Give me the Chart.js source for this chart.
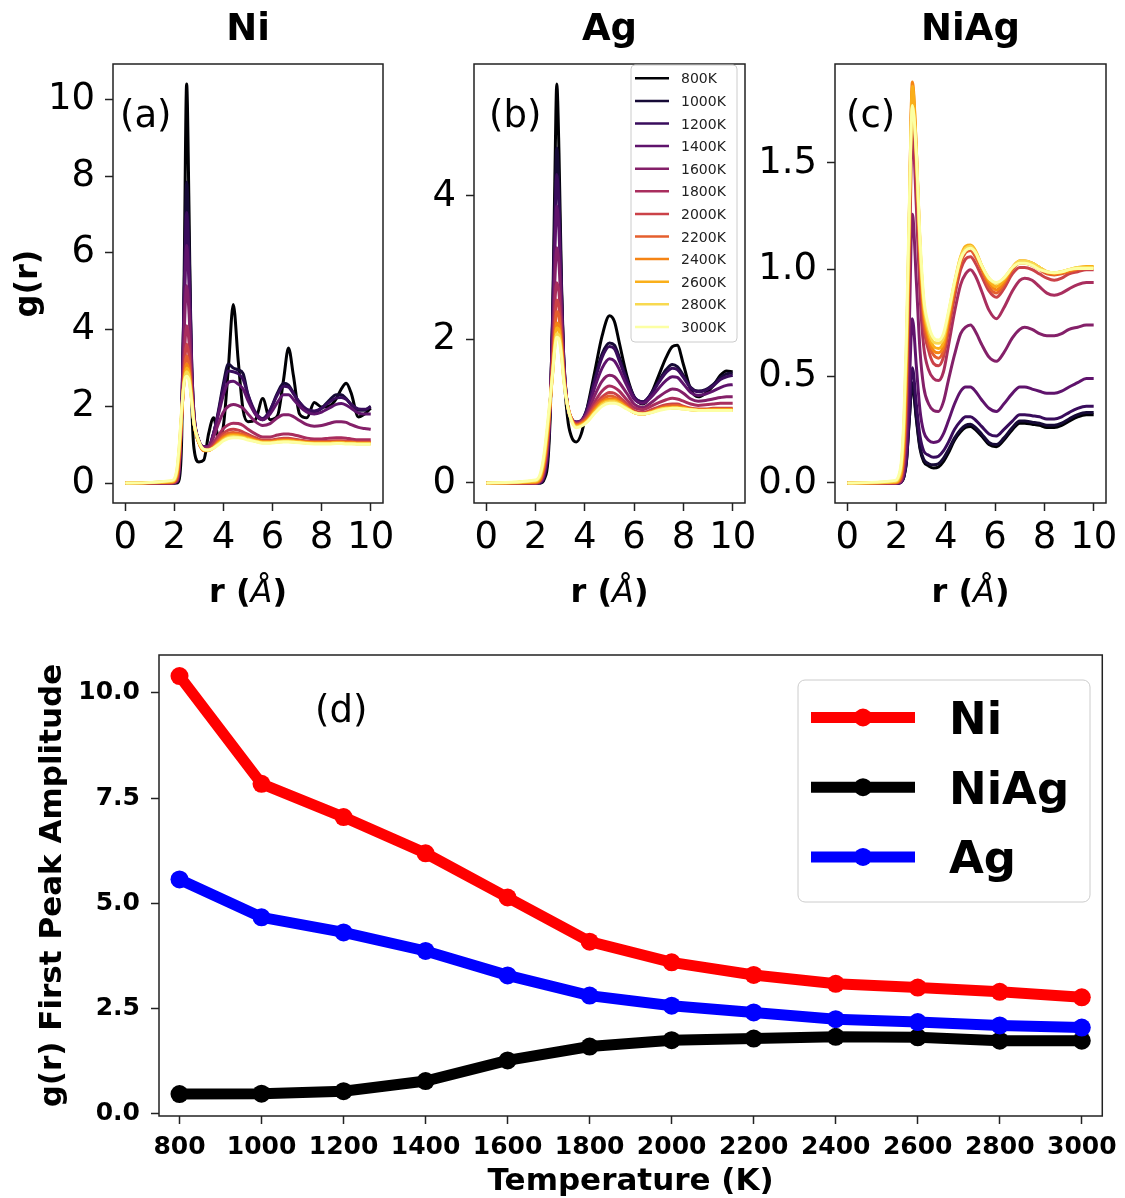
<!DOCTYPE html>
<html>
<head>
<meta charset="utf-8">
<script src="https://cdn.jsdelivr.net/npm/chart.js@4.4.0/dist/chart.umd.min.js"></script>
<style>
  html, body { margin: 0; padding: 0; background: #fff; }
  body { width: 1125px; height: 1198px; position: relative; overflow: hidden; }
  canvas { position: absolute; left: 0; top: 0; }
</style>
</head>
<body>
<canvas id="cNi" width="1125" height="1198"></canvas>
<canvas id="cAg" width="1125" height="1198"></canvas>
<canvas id="cNiAg" width="1125" height="1198"></canvas>
<canvas id="cPeak" width="1125" height="1198"></canvas>
<script>
// temperatures (K)
const temps = [800, 1000, 1200, 1400, 1600, 1800, 2000, 2200, 2400, 2600, 2800, 3000]
const tempLabels = ["800K", "1000K", "1200K", "1400K", "1600K", "1800K", "2000K", "2200K", "2400K", "2600K", "2800K", "3000K"]
const inferno = ["#000004", "#160a36", "#390c5c", "#5f136c", "#842069", "#a92e5e",
                 "#cb4248", "#e55f2e", "#f58414", "#faaf1a", "#f8d950", "#fcffa4"]

// first peak amplitude vs temperature (panel d)
const peakNi   = [10.40, 7.84, 7.05, 6.19, 5.14, 4.09, 3.60, 3.30, 3.09, 3.00, 2.90, 2.77]
const peakNiAg = [0.47, 0.48, 0.54, 0.78, 1.27, 1.60, 1.75, 1.79, 1.83, 1.82, 1.74, 1.74]
const peakAg   = [5.57, 4.67, 4.31, 3.87, 3.29, 2.81, 2.57, 2.41, 2.25, 2.18, 2.10, 2.05]

// tick labels
const rTicks = [0, 2, 4, 6, 8, 10]
const niTicks = [0, 2, 4, 6, 8, 10]
const agTicks = [0, 2, 4]
const niagTicks = [0, 0.5, 1.0, 1.5]
const peakYTicks = [0, 2.5, 5, 7.5, 10]

// g(r), Ni (one row per temperature)
const rNi = [0, 1.9, 2.1, 2.2, 2.3, 2.4, 2.5, 2.6, 2.7, 2.8, 3.0, 3.2, 3.4, 3.6, 3.8, 4.0, 4.2, 4.4, 4.6, 4.8,
             5.0, 5.3, 5.6, 5.9, 6.2, 6.45, 6.65, 6.85, 7.1, 7.4, 7.7, 8.0, 8.3, 8.6, 8.8, 9.0, 9.2, 9.5, 9.75, 10]
const gNi = [
  [0,0,0,0.1,1.2,5.5,10.4,7.0,2.4,0.9, 0.55,0.6,1.3,1.7,1.2,1.5,3.0,4.65,3.2,1.9, 1.6,1.65,2.2,1.65,1.75,2.7,3.52,2.8,1.8,1.7, 2.1,1.98,2.0,2.2,2.45,2.6,2.35,1.72,1.8,1.95],
  [0,0,0.02,0.3,1.8,5.0,7.84,6.2,3.3,1.8, 1.1,0.95,0.95,1.3,1.9,2.6,3.1,3.0,2.95,2.85, 2.3,1.8,1.65,1.9,2.35,2.6,2.55,2.35,2.1,1.9, 1.85,1.95,2.15,2.3,2.3,2.2,2.05,1.9,1.9,2.0],
  [0,0,0.03,0.35,1.9,4.8,7.05,5.7,3.2,1.8, 1.1,0.95,0.95,1.3,1.85,2.5,2.92,2.9,2.85,2.7, 2.3,1.85,1.68,1.9,2.3,2.52,2.5,2.33,2.1,1.92, 1.88,1.95,2.1,2.22,2.23,2.18,2.05,1.93,1.92,1.98],
  [0,0,0.04,0.4,1.9,4.4,6.19,5.1,3.0,1.75, 1.1,0.95,0.97,1.3,1.8,2.3,2.62,2.65,2.58,2.45, 2.15,1.8,1.65,1.8,2.1,2.3,2.3,2.18,2.0,1.85, 1.8,1.85,1.95,2.05,2.07,2.03,1.95,1.82,1.8,1.8],
  [0,0,0.05,0.45,1.8,3.9,5.14,4.4,2.8,1.7, 1.1,0.92,0.95,1.2,1.55,1.85,2.0,2.05,2.02,1.95, 1.8,1.6,1.5,1.55,1.7,1.78,1.78,1.73,1.63,1.52, 1.48,1.5,1.55,1.6,1.6,1.58,1.52,1.45,1.42,1.4],
  [0,0,0.06,0.5,1.7,3.25,4.1,3.65,2.5,1.6, 1.05,0.88,0.9,1.05,1.25,1.42,1.52,1.56,1.55,1.5, 1.4,1.28,1.2,1.2,1.25,1.28,1.28,1.26,1.22,1.17, 1.15,1.15,1.17,1.18,1.18,1.17,1.15,1.13,1.13,1.13],
  [0,0.01,0.1,0.6,1.7,2.95,3.62,3.3,2.4,1.6, 1.05,0.85,0.87,0.98,1.15,1.3,1.38,1.4,1.38,1.33, 1.27,1.18,1.12,1.12,1.15,1.17,1.17,1.15,1.12,1.09, 1.08,1.08,1.09,1.1,1.1,1.09,1.08,1.07,1.07,1.07],
  [0,0.02,0.15,0.7,1.75,2.8,3.32,3.05,2.3,1.55, 1.05,0.84,0.85,0.95,1.1,1.23,1.3,1.32,1.3,1.27, 1.22,1.14,1.09,1.09,1.12,1.14,1.14,1.12,1.1,1.07, 1.06,1.06,1.07,1.07,1.07,1.07,1.06,1.05,1.05,1.05],
  [0,0.03,0.2,0.8,1.8,2.7,3.1,2.9,2.25,1.55, 1.05,0.85,0.85,0.93,1.06,1.18,1.25,1.27,1.26,1.23, 1.18,1.12,1.07,1.07,1.1,1.11,1.11,1.1,1.08,1.06, 1.05,1.05,1.05,1.06,1.06,1.05,1.05,1.04,1.04,1.04],
  [0,0.04,0.25,0.85,1.85,2.66,3.0,2.84,2.2,1.55, 1.06,0.86,0.85,0.92,1.04,1.15,1.22,1.24,1.23,1.2, 1.16,1.1,1.06,1.06,1.08,1.1,1.1,1.09,1.07,1.05, 1.04,1.04,1.04,1.05,1.05,1.04,1.04,1.03,1.03,1.03],
  [0,0.05,0.3,0.95,1.9,2.65,2.9,2.76,2.18,1.55, 1.07,0.87,0.86,0.92,1.02,1.12,1.19,1.21,1.2,1.18, 1.14,1.09,1.05,1.05,1.07,1.08,1.08,1.07,1.06,1.04, 1.03,1.03,1.03,1.04,1.04,1.03,1.03,1.02,1.02,1.02],
  [0,0.07,0.35,1.0,1.95,2.62,2.78,2.66,2.15,1.55, 1.08,0.88,0.86,0.91,1.0,1.1,1.16,1.18,1.18,1.16, 1.12,1.08,1.04,1.04,1.06,1.07,1.07,1.06,1.05,1.03, 1.02,1.02,1.02,1.03,1.03,1.02,1.02,1.01,1.01,1.01]
]

// g(r), Ag
const rAg = [0, 2.0, 2.2, 2.35, 2.5, 2.6, 2.7, 2.78, 2.86, 2.95, 3.05, 3.15, 3.3, 3.45, 3.65, 3.85, 4.1, 4.4, 4.7, 5.0,
             5.2, 5.4, 5.7, 6.0, 6.35, 6.7, 7.0, 7.3, 7.55, 7.75, 8.0, 8.3, 8.6, 8.9, 9.2, 9.5, 9.75, 10]
const gAg = [
  [0,0,0,0.05,0.3,1.0,2.5,4.2,5.56,4.6, 2.8,1.6,0.9,0.65,0.57,0.68,1.05,1.55,2.05,2.33, 2.25,1.95,1.5,1.2,1.1,1.25,1.5,1.75,1.9,1.92, 1.65,1.3,1.2,1.25,1.35,1.5,1.56,1.55],
  [0,0,0,0.08,0.4,1.1,2.4,3.7,4.67,4.1, 2.7,1.7,1.05,0.88,0.84,0.86,1.05,1.45,1.8,1.95, 1.92,1.75,1.45,1.2,1.13,1.25,1.42,1.58,1.65,1.62, 1.5,1.33,1.28,1.3,1.37,1.47,1.52,1.53],
  [0,0,0.01,0.1,0.45,1.15,2.35,3.5,4.30,3.85, 2.65,1.7,1.07,0.9,0.85,0.87,1.03,1.42,1.75,1.9, 1.87,1.7,1.43,1.2,1.13,1.24,1.4,1.54,1.6,1.58, 1.47,1.32,1.27,1.29,1.35,1.44,1.48,1.5],
  [0,0,0.01,0.12,0.5,1.15,2.2,3.2,3.86,3.5, 2.5,1.65,1.07,0.9,0.85,0.87,1.0,1.33,1.6,1.73, 1.7,1.58,1.36,1.17,1.11,1.2,1.32,1.43,1.48,1.47, 1.38,1.26,1.22,1.24,1.28,1.33,1.36,1.37],
  [0,0,0.02,0.15,0.55,1.15,2.0,2.8,3.28,3.05, 2.3,1.6,1.07,0.9,0.84,0.86,0.97,1.22,1.42,1.5, 1.48,1.4,1.25,1.1,1.05,1.12,1.2,1.27,1.31,1.3, 1.25,1.17,1.14,1.15,1.17,1.19,1.2,1.2],
  [0,0,0.03,0.18,0.6,1.15,1.85,2.5,2.79,2.65, 2.15,1.55,1.08,0.9,0.83,0.85,0.94,1.13,1.28,1.35, 1.33,1.28,1.16,1.05,1.02,1.07,1.12,1.16,1.18,1.17, 1.14,1.1,1.08,1.09,1.1,1.11,1.11,1.11],
  [0,0,0.04,0.22,0.65,1.15,1.72,2.25,2.55,2.45, 2.02,1.5,1.08,0.9,0.82,0.84,0.92,1.08,1.2,1.26, 1.25,1.2,1.1,1.01,0.98,1.02,1.06,1.09,1.1,1.1, 1.07,1.04,1.03,1.03,1.04,1.04,1.04,1.04],
  [0,0.01,0.05,0.25,0.7,1.15,1.67,2.12,2.39,2.32, 1.95,1.48,1.08,0.9,0.81,0.83,0.9,1.05,1.16,1.21, 1.2,1.16,1.07,0.99,0.96,1.0,1.04,1.07,1.08,1.08, 1.06,1.03,1.02,1.02,1.03,1.03,1.03,1.03],
  [0,0.01,0.07,0.3,0.75,1.15,1.6,2.0,2.23,2.19, 1.88,1.45,1.08,0.89,0.8,0.82,0.88,1.02,1.13,1.17, 1.17,1.13,1.05,0.98,0.96,0.99,1.03,1.05,1.06,1.06, 1.05,1.03,1.02,1.02,1.02,1.02,1.02,1.02],
  [0,0.02,0.09,0.33,0.78,1.16,1.57,1.95,2.16,2.13, 1.85,1.43,1.07,0.88,0.79,0.81,0.87,1.0,1.11,1.15, 1.15,1.12,1.05,0.98,0.96,0.99,1.02,1.04,1.05,1.05, 1.04,1.02,1.01,1.01,1.02,1.02,1.02,1.02],
  [0,0.03,0.11,0.37,0.82,1.18,1.55,1.9,2.08,2.06, 1.8,1.42,1.07,0.88,0.78,0.8,0.86,0.98,1.09,1.13, 1.13,1.1,1.04,0.98,0.96,0.98,1.02,1.04,1.04,1.04, 1.03,1.02,1.01,1.01,1.01,1.01,1.01,1.01],
  [0,0.04,0.14,0.42,0.88,1.22,1.57,1.87,2.03,2.0, 1.77,1.4,1.07,0.87,0.77,0.79,0.85,0.97,1.07,1.11, 1.11,1.09,1.03,0.98,0.96,0.98,1.01,1.03,1.04,1.04, 1.03,1.02,1.01,1.01,1.01,1.01,1.01,1.01]
]

// g(r), NiAg
const rNiAg = [0, 1.95, 2.1, 2.2, 2.3, 2.4, 2.5, 2.64, 2.8, 2.95, 3.1, 3.3, 3.5, 3.7, 3.9, 4.1, 4.35, 4.6, 4.8, 5.0,
               5.2, 5.45, 5.75, 6.05, 6.35, 6.7, 7.0, 7.2, 7.5, 7.8, 8.1, 8.4, 8.7, 9.0, 9.35, 9.7, 10]
const gNiAg = [
  [0,0,0,0.005,0.03,0.1,0.27,0.46,0.3,0.16, 0.1,0.08,0.07,0.075,0.1,0.14,0.2,0.24,0.26,0.265, 0.25,0.22,0.18,0.17,0.2,0.25,0.28,0.28,0.275,0.27, 0.26,0.26,0.27,0.29,0.31,0.32,0.32],
  [0,0,0,0.005,0.03,0.1,0.27,0.47,0.31,0.17, 0.11,0.09,0.085,0.09,0.115,0.155,0.21,0.25,0.27,0.275, 0.26,0.23,0.19,0.18,0.21,0.26,0.29,0.29,0.285,0.28, 0.27,0.27,0.28,0.3,0.32,0.33,0.33],
  [0,0,0,0.006,0.035,0.11,0.3,0.54,0.37,0.22, 0.15,0.13,0.12,0.125,0.15,0.19,0.25,0.29,0.31,0.31, 0.295,0.265,0.23,0.22,0.25,0.29,0.32,0.32,0.315,0.31, 0.3,0.3,0.31,0.33,0.35,0.36,0.36],
  [0,0,0,0.008,0.045,0.15,0.4,0.77,0.55,0.34, 0.24,0.2,0.19,0.195,0.23,0.29,0.37,0.43,0.45,0.45, 0.43,0.39,0.35,0.335,0.37,0.42,0.45,0.45,0.44,0.43, 0.42,0.42,0.43,0.45,0.47,0.49,0.49],
  [0,0,0.002,0.012,0.07,0.25,0.65,1.26,0.95,0.62, 0.45,0.37,0.34,0.335,0.38,0.48,0.6,0.7,0.73,0.74, 0.71,0.65,0.59,0.57,0.61,0.68,0.72,0.73,0.72,0.7, 0.69,0.69,0.7,0.72,0.73,0.74,0.74],
  [0,0,0.004,0.02,0.1,0.35,0.9,1.64,1.3,0.88, 0.64,0.53,0.49,0.48,0.52,0.64,0.8,0.93,0.98,1.0, 0.97,0.9,0.81,0.77,0.82,0.9,0.95,0.96,0.95,0.92, 0.89,0.88,0.89,0.91,0.93,0.94,0.94],
  [0,0,0.006,0.03,0.13,0.42,1.0,1.79,1.45,1.0, 0.74,0.62,0.56,0.55,0.59,0.71,0.87,1.0,1.05,1.06, 1.03,0.97,0.9,0.87,0.91,0.98,1.01,1.01,1.0,0.98, 0.96,0.95,0.96,0.98,0.99,1.0,1.0],
  [0,0.002,0.01,0.04,0.16,0.48,1.07,1.84,1.52,1.06, 0.78,0.65,0.6,0.585,0.62,0.74,0.9,1.03,1.08,1.09, 1.06,1.0,0.92,0.89,0.93,1.0,1.03,1.03,1.02,1.0, 0.98,0.975,0.98,0.99,1.0,1.005,1.005],
  [0,0.003,0.015,0.055,0.2,0.55,1.13,1.88,1.57,1.1, 0.81,0.68,0.62,0.61,0.64,0.76,0.92,1.05,1.1,1.11, 1.08,1.01,0.94,0.905,0.94,1.01,1.04,1.04,1.03,1.01, 0.99,0.98,0.985,0.995,1.005,1.01,1.01],
  [0,0.005,0.02,0.07,0.24,0.6,1.17,1.86,1.57,1.12, 0.83,0.7,0.64,0.63,0.66,0.78,0.93,1.06,1.11,1.115, 1.09,1.02,0.95,0.92,0.95,1.01,1.04,1.04,1.03,1.01, 0.99,0.985,0.99,1.0,1.01,1.015,1.015],
  [0,0.008,0.03,0.09,0.28,0.64,1.18,1.77,1.53,1.12, 0.85,0.72,0.66,0.655,0.68,0.79,0.94,1.06,1.1,1.11, 1.085,1.02,0.96,0.935,0.96,1.01,1.04,1.04,1.03,1.01, 0.99,0.985,0.99,1.0,1.01,1.01,1.01],
  [0,0.012,0.04,0.11,0.32,0.7,1.22,1.77,1.55,1.15, 0.87,0.74,0.68,0.67,0.7,0.8,0.94,1.05,1.09,1.1, 1.08,1.02,0.96,0.94,0.96,1.01,1.03,1.03,1.02,1.0, 0.99,0.985,0.99,1.0,1.005,1.005,1.005]
]

const W = 1125, H = 1198
const FONT = "'DejaVu Sans', sans-serif"

function roundBox(ctx, x, y, w, h, r) {
  ctx.beginPath()
  ctx.moveTo(x + r, y)
  ctx.arcTo(x + w, y, x + w, y + h, r)
  ctx.arcTo(x + w, y + h, x, y + h, r)
  ctx.arcTo(x, y + h, x, y, r)
  ctx.arcTo(x, y, x + w, y, r)
  ctx.closePath()
}

function mixedText(ctx, parts, cx, y) {
  let total = 0
  parts.forEach(p => { ctx.font = p.font; p.w = ctx.measureText(p.text).width; total += p.w })
  let x = cx - total / 2
  ctx.textAlign = "left"
  parts.forEach(p => { ctx.font = p.font; ctx.fillText(p.text, x, y); x += p.w })
}

// frame, titles, labels and legends
const decor = {
  id: "decor",
  afterDraw(chart, args, o) {
    const { ctx, chartArea: a } = chart
    ctx.save()
    ctx.strokeStyle = "#222"
    ctx.lineWidth = 1.5
    ctx.strokeRect(a.left, a.top, a.right - a.left, a.bottom - a.top)
    ctx.fillStyle = "#000"
    ctx.textBaseline = "alphabetic"
    const cx = (a.left + a.right) / 2
    if (o.title) {
      ctx.font = "bold 37px " + FONT
      ctx.textAlign = "center"
      ctx.fillText(o.title, cx, 40)
    }
    if (o.tag) {
      ctx.font = "37px " + FONT
      ctx.textAlign = "left"
      ctx.fillText(o.tag[0], o.tag[1], o.tag[2])
    }
    if (o.xTitle) mixedText(ctx, o.xTitle.parts, cx, o.xTitle.y)
    if (o.yTitle) {
      ctx.save()
      ctx.translate(o.yTitle.x, (a.top + a.bottom) / 2)
      ctx.rotate(-Math.PI / 2)
      ctx.font = o.yTitle.font
      ctx.textAlign = "center"
      ctx.textBaseline = "middle"
      ctx.fillText(o.yTitle.text, 0, 0)
      ctx.restore()
    }
    const lg = o.legend
    if (lg) {
      const sets = chart.data.datasets
      roundBox(ctx, lg.box[0], lg.box[1], lg.box[2], lg.box[3], lg.radius)
      ctx.fillStyle = "rgba(255,255,255,0.8)"
      ctx.fill()
      ctx.strokeStyle = "#cccccc"
      ctx.lineWidth = 1
      ctx.stroke()
      sets.forEach((ds, i) => {
        const y = lg.y0 + i * lg.dy
        ctx.strokeStyle = ds.borderColor
        ctx.lineWidth = lg.lw
        ctx.lineCap = "butt"
        ctx.beginPath()
        ctx.moveTo(lg.x0, y)
        ctx.lineTo(lg.x1, y)
        ctx.stroke()
        if (lg.marker) {
          ctx.fillStyle = ds.borderColor
          ctx.beginPath()
          ctx.arc((lg.x0 + lg.x1) / 2, y, lg.marker, 0, Math.PI * 2)
          ctx.fill()
        }
        ctx.fillStyle = lg.color
        ctx.font = lg.font
        ctx.textAlign = "left"
        ctx.fillText(ds.label, lg.tx, y + lg.base)
      })
    }
    ctx.restore()
  }
}

function axis(min, max, values, fixed, size, pad, tickFont) {
  return {
    type: "linear", min, max,
    afterBuildTicks: s => { s.ticks = values.map(v => ({ value: v })) },
    afterFit: s => { if (s.isHorizontal()) s.height = size; else s.width = size },
    ticks: { autoSkip: false, maxRotation: 0, minRotation: 0, padding: pad, color: "#000",
             font: tickFont, callback: v => v.toFixed(fixed) },
    grid: { drawOnChartArea: false, drawTicks: true, tickLength: 8, tickWidth: 1.5, tickColor: "#222" },
    border: { display: false }
  }
}

function rdfSets(r, rows) {
  return rows.map((g, i) => ({
    label: tempLabels[i],
    data: r.map((x, j) => ({ x, y: g[j] })),
    borderColor: inferno[i],
    borderWidth: 3,
    pointRadius: 0,
    cubicInterpolationMode: "monotone",
    borderJoinStyle: "round",
    order: rows.length - i
  }))
}

const rTitle = {
  y: 602,
  parts: [
    { text: "r (", font: "bold 32px " + FONT },
    { text: "Å", font: "italic 32px " + FONT },
    { text: ")", font: "bold 32px " + FONT }
  ]
}
const topTickFont = { family: FONT, size: 37 }

function rdfChart(id, r, rows, box, ymin, ymax, yTicks, yFixed, deco) {
  const xh = 100
  return new Chart(document.getElementById(id), {
    type: "line",
    data: { datasets: rdfSets(r, rows) },
    options: {
      responsive: false, animation: false, events: [],
      layout: { padding: { left: box[0] - 113, top: box[1], right: W - box[2], bottom: H - box[3] - xh } },
      scales: {
        x: axis(-0.5, 10.5, rTicks, 0, xh, 5, topTickFont),
        y: axis(ymin, ymax, yTicks, yFixed, 113, 10, topTickFont)
      },
      plugins: { legend: { display: false }, tooltip: { enabled: false }, decor: deco }
    },
    plugins: [decor]
  })
}

rdfChart("cNi", rNi, gNi, [113, 64, 383, 503], -0.52, 10.92, niTicks, 0, {
  title: "Ni", tag: ["(a)", 120, 127], xTitle: rTitle,
  yTitle: { text: "g(r)", x: 29, font: "bold 32px " + FONT }
})
rdfChart("cAg", rAg, gAg, [474, 64, 745, 503], -0.28, 5.84, agTicks, 0, {
  title: "Ag", tag: ["(b)", 489, 127], xTitle: rTitle,
  legend: { box: [631, 65, 106, 277], radius: 4, y0: 78.3, dy: 22.6, x0: 635, x1: 669, lw: 2.5,
            tx: 681, font: "14px " + FONT, color: "#222", base: 5 }
})
rdfChart("cNiAg", rNiAg, gNiAg, [835, 64, 1106, 503], -0.094, 1.964, niagTicks, 1, {
  title: "NiAg", tag: ["(c)", 846, 127], xTitle: rTitle
})

// panel (d): first peak amplitude
const peakBox = [159, 655, 1105, 1116]
const peakTickFont = { family: FONT, size: 25, weight: "bold" }
const peakSeries = [
  { label: "Ni", values: peakNi, color: "#ff0000" },
  { label: "NiAg", values: peakNiAg, color: "#000000" },
  { label: "Ag", values: peakAg, color: "#0000ff" }
]
new Chart(document.getElementById("cPeak"), {
  type: "line",
  data: {
    datasets: peakSeries.map((s, i) => ({
      label: s.label,
      data: temps.map((t, j) => ({ x: t, y: s.values[j] })),
      borderColor: s.color,
      backgroundColor: s.color,
      pointBackgroundColor: s.color,
      borderWidth: 11,
      pointRadius: 9,
      pointBorderWidth: 0,
      tension: 0,
      order: peakSeries.length - i
    }))
  },
  options: {
    responsive: false, animation: false, events: [],
    layout: { padding: { left: 0, top: peakBox[1], right: W - peakBox[2], bottom: H - peakBox[3] - 60 } },
    scales: {
      x: axis(750, 3050, temps, 0, 60, 8, peakTickFont),
      y: axis(-0.05, 10.9, peakYTicks, 1, peakBox[0], 11, peakTickFont)
    },
    plugins: {
      legend: { display: false }, tooltip: { enabled: false },
      decor: {
        tag: ["(d)", 315, 722],
        xTitle: { y: 1190, parts: [{ text: "Temperature (K)", font: "bold 31px " + FONT }] },
        yTitle: { text: "g(r) First Peak Amplitude", x: 53, font: "bold 31px " + FONT },
        legend: { box: [798, 680, 292, 222], radius: 7, y0: 717.5, dy: 69.7, x0: 811, x1: 915, lw: 11,
                  marker: 9, tx: 949, font: "bold 45px " + FONT, color: "#000", base: 16.5 }
      }
    }
  },
  plugins: [decor]
})
</script>
</body>
</html>
